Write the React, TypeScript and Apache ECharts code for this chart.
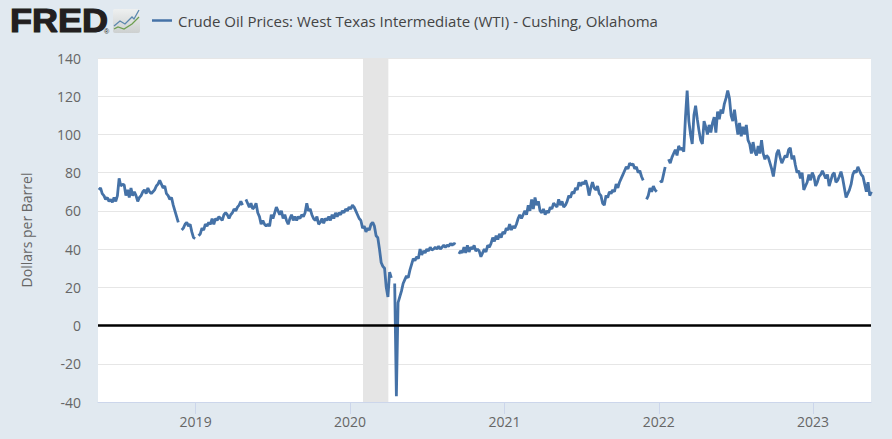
import React, { useEffect, useRef } from "react";
import * as echarts from "echarts";

const seriesName = "Crude Oil Prices: West Texas Intermediate (WTI) - Cushing, Oklahoma";
const yAxisName = "Dollars per Barrel";
const yearTicks = ["2019-01-01", "2020-01-01", "2021-01-01", "2022-01-01", "2023-01-01"];
const recession = ["2020-02-01", "2020-04-01"];
const firstDate = "2018-05-17";
const stepDays = 4;

const v2018 = [71,72,69,68,66,67,65,66,64.5,67,65,68,77,73,74,73.5,68,71,67,72,68,70,68,65,67,68,70,71,69,72,70,69,70,71,73,74,76,74,72,73,69,68,66,67,63,60,57,54,null,50,51,53,54,52,53,49,46,45.5,null];
const v2019 = [47,48,51,50,53,52,54,53,56,53,56,55,57,56,55,58,59,58,56,58,59,61,60,62,63,65,63,null,66,64,62,64,61,62,64,59,57,53,55,53,52,53,52,58,56,59,62,60,58,60,56,58,55,53,56,58,55,57,55,57,56,58,57,59,64,60,61,58,56,55,57,53,54,56,53.5,56,55,57,55,58,56,59,57,59,58,60,59,61,60,62,61,63,62];
const v2020 = [60,58,56,55,51,52,49,51,50,53,54,52,47,46,40,33,31,30,20,15,28,25,null,22,-37,12,15,18,22,24,26,25,29,32,35,34,36,35,40,37,39,38,40,39,41,39.5,40,41,40,41.5,40,41,42,41,42,41.5,43,42,43,42.5,null,37.5,39,38,41,38,42,38.5,41,40,42,39,40,39,36,38,40,38.5,42,41,43,46,44,47,45,48,46,49,48];
const v2021 = [51,50,53,50,52,51,53,56,58,56,58,60,58,63,60,66,61,67,63,65,60,59,61,58,60,59,62,61,64,63,62,66,63,65,62,63,65,68,67,70,69,72,71,75,73,75,74,76,73,68,72,75,72,71,73,69,68,64,63,68,67,70,69,71,70,74,72,75,77,79,81,83,82,85,84,84.5,82,83,80,81,78,76,null,66,68,72,70,73,71,70,null];
const v2022 = [76,75,79,83,null,87,85,88,90,92,89,94,92,93,91,109,123,107,100,95,110,115,108,102,97,95,107,104,100,105,101,106,109,101,112,108,113,111,116,119,123,119,110,107,113,106,100,106,99,104,100,105,97,95,90,96,91,89,94,90,97,90,87,89,88,85,82,78,84,90,92,88,85,87,89,88,92,93,87,89,84,80,81,77,80,71];
const v2023 = [73,75,79,76,80,78,73,75,78,79,81,79,77,79,73,76,79,80,75,76,78,80.5,77,72,67,69,71,74,79,81,80,83,81,79,78,74,70,75,68,70];

const values = [...v2018, ...v2019, ...v2020, ...v2021, ...v2022, ...v2023];
const DAY = 86400000;
const startMs = new Date(firstDate + "T00:00:00").getTime();
const lineData = values.map((v, i) => [startMs + i * stepDays * DAY, v]);
const ts = (d: string) => new Date(d + "T00:00:00").getTime();
const yearTs = yearTicks.map(ts);

echarts.graphic.registerShape("fredIcon", echarts.graphic.extendPath("M0 2 Q0 0 2 0 H25 Q27 0 27 2 V22 Q27 24 25 24 H2 Q0 24 0 22 Z", {}));

export default function App() {
  const ref = useRef<HTMLDivElement>(null);
  useEffect(() => {
    document.body.style.margin = "0";
    const chart = echarts.init(ref.current!, undefined, { renderer: "svg" });
    chart.setOption({
      animation: false,
      backgroundColor: "#e1e9f0",
      textStyle: { fontFamily: "Open Sans" },
      grid: { left: 98, right: 21, top: 58, bottom: 37, show: true, backgroundColor: "#ffffff", borderWidth: 0 },
      legend: {
        left: 147,
        top: 8,
        icon: "rect",
        itemWidth: 20,
        itemHeight: 2.5,
        itemGap: 6,
        textStyle: { fontFamily: "Open Sans", fontSize: 15, color: "#444", padding: [0, 0, 0, 1] },
        data: [seriesName],
      },
      xAxis: {
        type: "value",
        min: ts("2018-05-15"),
        max: ts("2023-05-18"),
        axisLine: { show: true, onZero: false, lineStyle: { color: "#ccd6eb", width: 1 } },
        axisTick: { show: true, length: 12, lineStyle: { color: "#ccd6eb", width: 1 }, customValues: yearTs },
        axisLabel: {
          show: true,
          color: "#666",
          fontSize: 14,
          fontFamily: "Open Sans",
          margin: 12,
          customValues: yearTs,
          formatter: (val: number) => String(new Date(val).getFullYear()),
        },
        splitLine: { show: false },
      },
      yAxis: {
        type: "value",
        min: -40,
        max: 140,
        interval: 20,
        name: yAxisName,
        nameLocation: "middle",
        nameGap: 65,
        nameTextStyle: { color: "#666", fontSize: 14, fontFamily: "Open Sans" },
        axisLine: { show: false },
        axisTick: { show: false },
        axisLabel: { color: "#666", fontSize: 14, fontFamily: "Open Sans", margin: 17 },
        splitLine: { show: true, lineStyle: { color: "#e6e6e6", width: 1 } },
      },
      series: [
        {
          name: seriesName,
          type: "line",
          showSymbol: false,
          symbol: "none",
          connectNulls: false,
          data: lineData,
          lineStyle: { color: "#4572a7", width: 2.8 },
          itemStyle: { color: "#4572a7" },
          markArea: {
            silent: true,
            itemStyle: { color: "#e5e5e5" },
            data: [[{ xAxis: ts(recession[0]) }, { xAxis: ts(recession[1]) }]],
            z: 1,
          },
          markLine: {
            silent: true,
            symbol: "none",
            label: { show: false },
            lineStyle: { color: "#000", width: 2.5, type: "solid" },
            data: [{ yAxis: 0 }],
          },
        },
      ],
      graphic: [
        {
          type: "text",
          x: 10,
          y: 3,
          scaleX: 1.06,
          style: { text: "FRED", font: "900 34px 'Liberation Sans'", fill: "#231f20", stroke: "#231f20", lineWidth: 1.2 },
        },
        { type: "text", x: 104, y: 28, style: { text: "®", font: "7px 'Liberation Sans'", fill: "#231f20" } },
        {
          type: "fredIcon",
          x: 113,
          y: 9,
          style: {
            fill: new echarts.graphic.LinearGradient(0, 0, 0, 1, [
              { offset: 0, color: "#eef0f0" },
              { offset: 1, color: "#cdd0d0" },
            ]),
          },
        },
        { type: "polyline", shape: { points: [[114, 26], [120, 21], [125, 24], [132, 17], [134, 19], [139, 10]] }, style: { stroke: "#5b87ad", lineWidth: 1.3, fill: "none" } },
        { type: "polyline", shape: { points: [[114, 29], [118, 27], [124, 29], [132, 24], [139, 17]] }, style: { stroke: "#6d9e4f", lineWidth: 1.3, fill: "none" } },
      ],
    });
    return () => chart.dispose();
  }, []);
  return <div ref={ref} style={{ width: 892, height: 439 }} />;
}
